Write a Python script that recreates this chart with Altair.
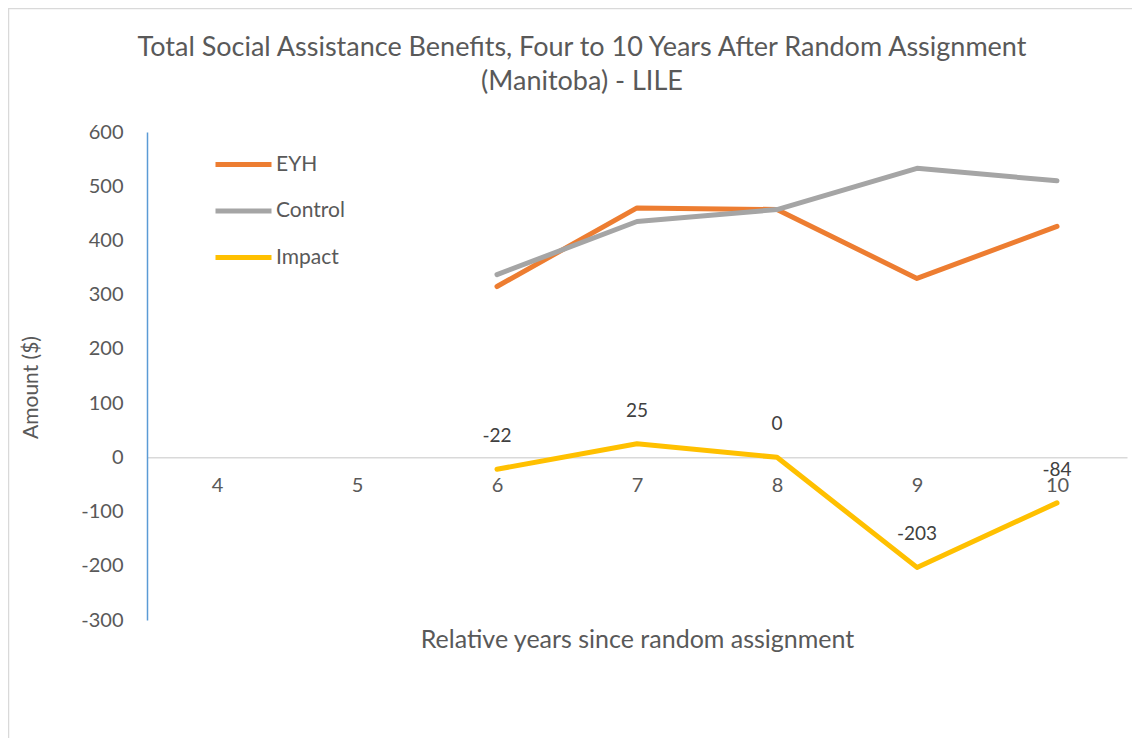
import altair as alt
import pandas as pd

# ---- data ----
all_years = [4, 5, 6, 7, 8, 9, 10]
years = [6, 7, 8, 9, 10]
series_names = ["EYH", "Control", "Impact"]
series_colors = ["#ED7D31", "#A5A5A5", "#FFC000"]
eyh = [315, 460, 457, 330, 426]
control = [337, 435, 457, 533, 510]
impact = [-22, 25, 0, -203, -84]
y_ticks = [-300, -200, -100, 0, 100, 200, 300, 400, 500, 600]

title_lines = ["Total Social Assistance Benefits, Four to 10 Years After Random Assignment",
               "(Manitoba) - LILE"]
x_title = "Relative years since random assignment"
y_title = "Amount ($)"

rows = []
for name, vals in zip(series_names, [eyh, control, impact]):
    for yr, v in zip(years, vals):
        rows.append({"year": yr, "value": v, "series": name})
df = pd.DataFrame(rows)
df["label"] = df["value"].astype(str)
impact_df = df[df["series"] == "Impact"]

W, H = 980, 488
FONT = "Lato"
TXT = "#595959"
zero_offset = -(H * 300 / 900)

x_enc = alt.X(
    "year:O",
    scale=alt.Scale(domain=all_years, type="point", padding=0.5),
    axis=alt.Axis(
        title=x_title, orient="bottom", offset=zero_offset, labelAngle=0,
        ticks=False, tickSize=0, domainColor="#D9D9D9", domainWidth=1.5,
        labelPadding=18, labelFontSize=20, labelColor=TXT, labelFont=FONT,
        titleFontSize=25, titleColor=TXT, titleFont=FONT, titleFontWeight="normal",
        titleBaseline="alphabetic", titleY=190,
    ),
)
y_enc = alt.Y(
    "value:Q",
    scale=alt.Scale(domain=[-300, 600], nice=False, zero=False),
    axis=alt.Axis(
        title=y_title, values=y_ticks, labelExpr="'' + datum.value",
        ticks=False, tickSize=0, grid=False, domainColor="#5B9BD5", domainWidth=1.5,
        labelPadding=24, labelFontSize=20, labelColor=TXT, labelFont=FONT,
        titleFontSize=21, titleColor=TXT, titleFont=FONT, titleFontWeight="normal",
        titlePadding=39, titleY=255,
    ),
)

lines = alt.Chart(df).mark_line(strokeWidth=5, strokeCap="round", strokeJoin="round").encode(
    x=x_enc,
    y=y_enc,
    color=alt.Color(
        "series:N",
        sort=series_names,
        scale=alt.Scale(domain=series_names, range=series_colors),
        legend=alt.Legend(
            title=None, orient="none", legendX=66, legendY=2,
            symbolType="stroke", symbolSize=3136, symbolStrokeWidth=5,
            labelFontSize=21, labelColor=TXT, labelFont=FONT, labelOffset=2,
            rowPadding=5.5,
        ),
    ),
)

labels = alt.Chart(impact_df).mark_text(dy=-33, fontSize=19, font=FONT, color="#404040").encode(
    x=alt.X("year:O", scale=alt.Scale(domain=all_years, type="point", padding=0.5)),
    y=alt.Y("value:Q"),
    text="label:N",
)

frame = pd.DataFrame({"k": [0]})
left_border = alt.Chart(frame).mark_rule(color="#D9D9D9", strokeWidth=1.5).encode(
    x=alt.value(-138.5), y=alt.value(-124), y2=alt.value(H + 118)
)
top_border = alt.Chart(frame).mark_rule(color="#D9D9D9", strokeWidth=1.5).encode(
    x=alt.value(-139), x2=alt.value(W + 10), y=alt.value(-123.5)
)

chart = alt.layer(left_border, top_border, lines, labels).properties(
    width=W,
    height=H,
    title=alt.TitleParams(
        text=title_lines, fontSize=27, font=FONT, color=TXT, fontWeight="normal",
        anchor="middle", dx=-55, lineHeight=34, offset=-110, baseline="alphabetic",
    ),
    autosize=alt.AutoSizeParams(type="none"),
    padding={"left": 139, "top": 124, "right": 5, "bottom": 118},
).configure_view(stroke=None)

chart.save("out.html", embed_options={"renderer": "svg", "actions": False})
